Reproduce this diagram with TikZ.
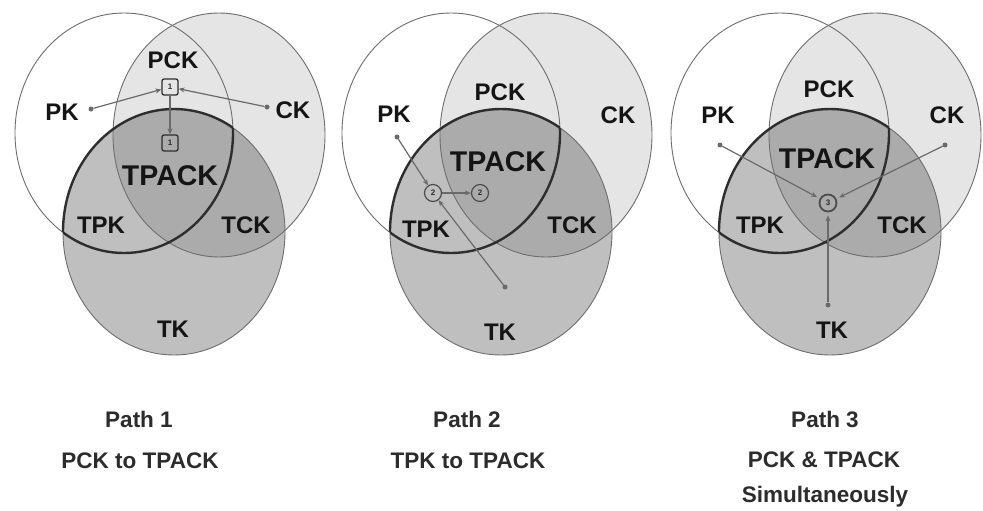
\documentclass[tikz,border=0pt]{standalone}
\usepackage{fontspec}
\setmainfont{Liberation Sans}
\usetikzlibrary{arrows.meta}
\definecolor{linegray}{HTML}{6E6E6E}
\definecolor{darkline}{HTML}{2E2E2E}
\definecolor{arrowgray}{HTML}{6A6A6A}
\definecolor{txt}{HTML}{151515}
\newcommand\vennset[1]{%
  \begin{scope}[xshift=#1pt]
    \fill[black,opacity=0.10] (219,135) ellipse [x radius=106, y radius=122];
    \fill[black,opacity=0.25] (174,232) ellipse [x radius=111, y radius=123];
    \draw[circline] (124,133) ellipse [x radius=109, y radius=120];
    \draw[circline] (219,135) ellipse [x radius=106, y radius=122];
    \draw[circline] (174,232) ellipse [x radius=111, y radius=123];
    \begin{scope}
      \clip (174,232) ellipse [x radius=111, y radius=123];
      \draw[lensline] (124,133) ellipse [x radius=109, y radius=120];
    \end{scope}
    \begin{scope}
      \clip (124,133) ellipse [x radius=109, y radius=120];
      \draw[lensline] (174,232) ellipse [x radius=111, y radius=123];
    \end{scope}
  \end{scope}}
\begin{document}
\begin{tikzpicture}[x=1pt,y=-1pt,
  circline/.style={draw=linegray, line width=0.9pt},
  lensline/.style={draw=darkline, line width=2.4pt},
  lbl/.style={font=\fontsize{24}{24}\selectfont\bfseries, text=txt, inner sep=0, anchor=base},
  biglbl/.style={font=\fontsize{28.5}{28.5}\selectfont\bfseries, text=txt, inner sep=0, anchor=base},
  captxt/.style={font=\fontsize{22.5}{22.5}\selectfont\bfseries, text=txt!90, inner sep=0, anchor=base},
  dotc/.style={circle, fill=arrowgray, inner sep=0, minimum size=5pt},
  arr/.style={draw=arrowgray, line width=1.2pt, -{Stealth[length=6pt,width=5pt]}},
  numbox/.style={draw=darkline, line width=1.3pt, rounded corners=2pt, minimum size=16pt, inner sep=0, font=\fontsize{8}{8}\selectfont\bfseries, text=darkline},
  numring/.style={circle, draw=darkline!85, line width=1.2pt, minimum size=17pt, inner sep=0, font=\fontsize{8}{8}\selectfont\bfseries, text=darkline}]
\useasboundingbox (0,0) rectangle (983,511);
\fill[white] (0,0) rectangle (983,511);

\vennset{0}
\vennset{327}
\vennset{656}

% ---- Diagram 1 labels
\node[lbl] (pck1) at (173,69) {PCK};
\node[lbl] (pk1) at (62,121) {PK};
\node[lbl] (ck1) at (293,118) {CK};
\node[biglbl] (tpack1) at (170,185) {TPACK};
\node[lbl] (tpk1) at (101,233) {TPK};
\node[lbl] (tck1) at (246,233) {TCK};
\node[lbl] (tk1) at (173,337) {TK};

% ---- Diagram 2 labels
\node[lbl] (pck2) at (500,100) {PCK};
\node[lbl] (pk2) at (394,122) {PK};
\node[lbl] (ck2) at (618,123) {CK};
\node[biglbl] (tpack2) at (498,171) {TPACK};
\node[lbl] (tpk2) at (426,237) {TPK};
\node[lbl] (tck2) at (572,233) {TCK};
\node[lbl] (tk2) at (500,340) {TK};

% ---- Diagram 3 labels
\node[lbl] (pck3) at (829,98) {PCK};
\node[lbl] (pk3) at (718,123) {PK};
\node[lbl] (ck3) at (947,123) {CK};
\node[biglbl] (tpack3) at (827,168) {TPACK};
\node[lbl] (tpk3) at (760,233) {TPK};
\node[lbl] (tck3) at (902,233) {TCK};
\node[lbl] (tk3) at (832,338) {TK};

% ---- Path 1 markers
\node[numbox] (b1a) at (170,87) {1};
\node[numbox] (b1b) at (170,143) {1};
\node[dotc] (pkdot1) at (91,109) {};
\node[dotc] (ckdot1) at (267,107) {};
\draw[arr] (pkdot1) -- (b1a);
\draw[arr] (ckdot1) -- (b1a);
\draw[arr] (b1a) -- (b1b);

% ---- Path 2 markers
\node[numring] (r2a) at (433,193) {2};
\node[numring] (r2b) at (480,193) {2};
\node[dotc] (pkdot2) at (397,137) {};
\node[dotc] (tkdot2) at (505,287) {};
\draw[arr] (pkdot2) -- (r2a);
\draw[arr] (tkdot2) -- (r2a);
\draw[arr] (r2a) -- (r2b);

% ---- Path 3 markers
\node[numring, line width=1.8pt] (r3) at (828,203) {3};
\node[dotc] (pkdot3) at (720,145) {};
\node[dotc] (ckdot3) at (945,145) {};
\node[dotc] (tkdot3) at (828,305) {};
\draw[arr, shorten >=3pt] (pkdot3) -- (r3);
\draw[arr, shorten >=3pt] (ckdot3) -- (r3);
\draw[arr, shorten >=3pt] (tkdot3) -- (r3);

% ---- Captions
\node[captxt] (c1a) at (139,427) {Path 1};
\node[captxt] (c1b) at (140,468) {PCK to TPACK};
\node[captxt] (c2a) at (467,427) {Path 2};
\node[captxt] (c2b) at (468,468) {TPK to TPACK};
\node[captxt] (c3a) at (825,427) {Path 3};
\node[captxt] (c3b) at (824,467) {PCK \& TPACK};
\node[captxt] (c3c) at (825,502) {Simultaneously};
\end{tikzpicture}
\end{document}
